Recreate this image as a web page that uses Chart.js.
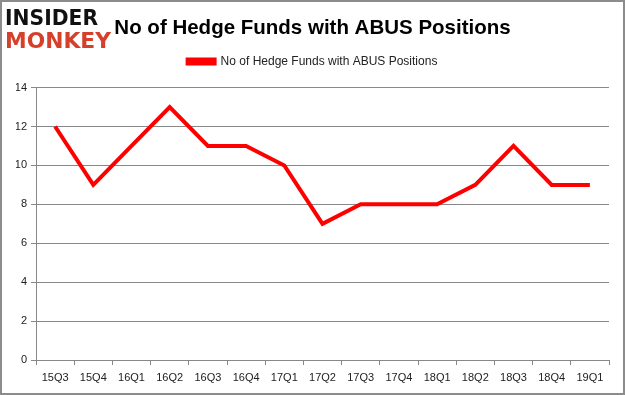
<!DOCTYPE html>
<html><head><meta charset="utf-8">
<script src="https://cdn.jsdelivr.net/npm/chart.js@4/dist/chart.umd.min.js"></script>
<style>html,body{margin:0;padding:0;background:#fff}#wrap{width:625px;height:395px;position:relative}</style>
</head><body><div id="wrap"><canvas id="c" width="625" height="395"></canvas></div>
<script>
const categories = ['15Q3','15Q4','16Q1','16Q2','16Q3','16Q4','17Q1','17Q2','17Q3','17Q4','18Q1','18Q2','18Q3','18Q4','19Q1'];
const fundCounts = [12, 9, 11, 13, 11, 11, 10, 7, 8, 8, 8, 9, 11, 9, 9];
const seriesName = 'No of Hedge Funds with ABUS Positions';
const chartTitle = 'No of Hedge Funds with ABUS Positions';
const yTicks = [0, 2, 4, 6, 8, 10, 12, 14];

const deco = {
  id: 'deco',
  beforeLayout(chart) {
    const lg = chart.legend;
    if (lg && !lg._patched) {
      const orig = lg.fit;
      lg.fit = function () { orig.call(this); this.height += 10; };
      lg._patched = true;
    }
  },
  afterDraw(chart) {
    const ctx = chart.ctx;
    ctx.save();
    ctx.strokeStyle = '#8c8c8c';
    ctx.lineWidth = 2;
    ctx.strokeRect(1, 1, 623, 393);
    ctx.textBaseline = 'alphabetic';
    ctx.font = 'bold 22px "DejaVu Sans"';
    ctx.fillStyle = '#111';
    ctx.fillText('INSIDER', 5, 25, 93);
    ctx.fillStyle = '#d6402a';
    ctx.fillText('MONKEY', 5, 48, 106);
    ctx.restore();
  }
};

new Chart(document.getElementById('c'), {
  type: 'line',
  data: {
    labels: categories,
    datasets: [{
      label: seriesName,
      data: fundCounts,
      borderColor: '#ff0000',
      backgroundColor: '#ff0000',
      borderWidth: 4,
      pointRadius: 0,
      tension: 0,
      fill: false
    }]
  },
  options: {
    responsive: false,
    animation: false,
    layout: { padding: { left: 16, right: 16, top: 4, bottom: 8 } },
    plugins: {
      title: {
        display: true,
        text: chartTitle,
        color: '#000',
        font: { family: '"Liberation Sans"', size: 20.5, weight: 'bold' },
        padding: { top: 12, bottom: 0 }
      },
      legend: {
        display: true,
        labels: {
          boxWidth: 27,
          boxHeight: 4,
          color: '#222',
          font: { family: '"Liberation Sans"', size: 12 },
          padding: 15
        }
      },
      tooltip: { enabled: false }
    },
    scales: {
      x: {
        offset: true,
        grid: { offset: true, drawOnChartArea: false, color: '#888', tickLength: 5 },
        border: { color: '#888' },
        ticks: { color: '#222', font: { family: '"Liberation Sans"', size: 11 }, maxRotation: 0, padding: 6 },
        afterFit(a) { a.height = 27; }
      },
      y: {
        min: 0, max: 14,
        afterBuildTicks(a) { a.ticks = yTicks.map(v => ({ value: v })); },
        grid: { color: '#888', tickLength: 5 },
        border: { color: '#888' },
        ticks: { color: '#222', font: { family: '"Liberation Sans"', size: 11 }, padding: 4 },
        afterFit(a) { a.width = 20; }
      }
    }
  },
  plugins: [deco]
});
</script></body></html>
